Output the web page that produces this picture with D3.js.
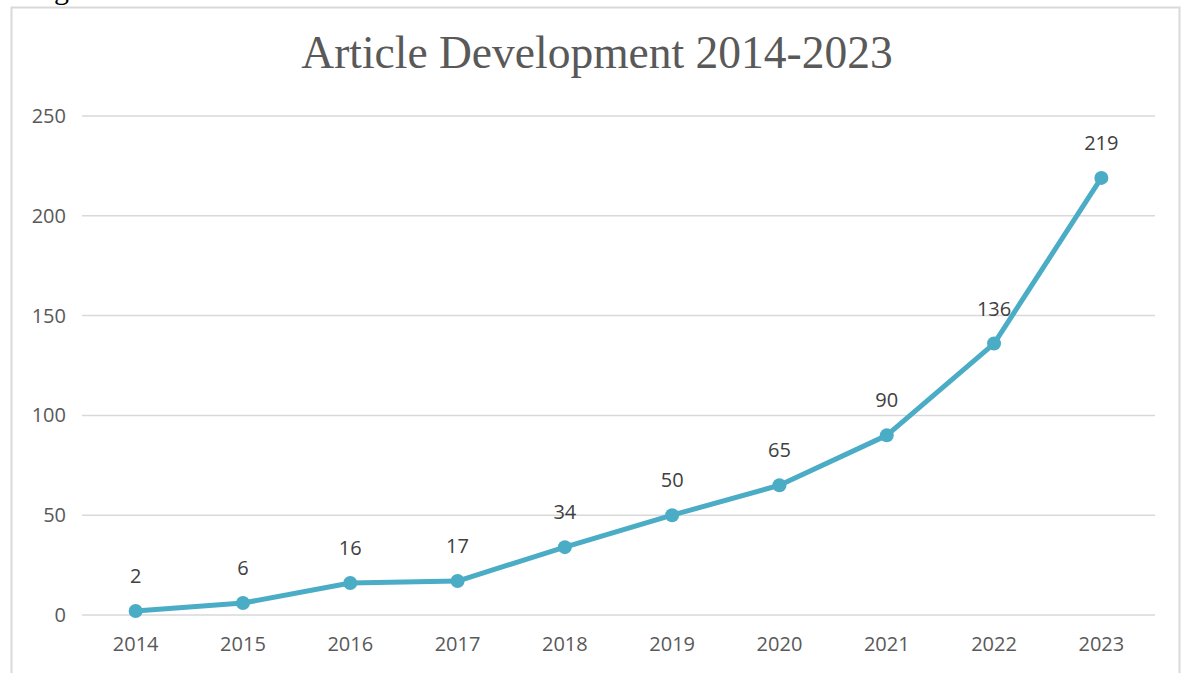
<!DOCTYPE html>
<html>
<head>
<meta charset="utf-8">
<script src="https://cdn.jsdelivr.net/npm/d3@7"></script>
<style>
  body { margin: 0; background: #fff; }
  svg { display: block; }
</style>
</head>
<body>
<div id="chart"></div>
<script>
// Chart size
const w = 1183;
const h = 673;

// Data
const years = ["2014", "2015", "2016", "2017", "2018", "2019", "2020", "2021", "2022", "2023"];
const articles = [2, 6, 16, 17, 34, 50, 65, 90, 136, 219];
const yTicks = [0, 50, 100, 150, 200, 250];

const data = years.map((y, i) => ({ year: y, value: articles[i] }));

const svg = d3.select("#chart")
    .append("svg")
    .attr("width", w)
    .attr("height", h);

// Frame around the chart area
svg.append("rect")
    .attr("x", 11.5)
    .attr("y", 7.5)
    .attr("width", 1168)
    .attr("height", 700)
    .attr("fill", "none")
    .attr("stroke", "#d9d9d9")
    .attr("stroke-width", 2);

// Fragment of caption above the frame (cut off in the source too)
svg.append("text")
    .attr("x", 54)
    .attr("y", -1)
    .attr("font-family", "Liberation Serif, serif")
    .attr("font-size", 30)
    .attr("fill", "#000")
    .text("g");

// Scales
const xScale = d3.scaleBand()
    .domain(years)
    .range([82, 1155]);

const yScale = d3.scaleLinear()
    .domain([0, 250])
    .range([615, 116]);

// Gridlines
svg.append("g")
    .selectAll("line")
    .data(yTicks)
    .enter()
    .append("line")
    .attr("x1", 82)
    .attr("x2", 1155)
    .attr("y1", d => yScale(d))
    .attr("y2", d => yScale(d))
    .attr("stroke", "#d9d9d9")
    .attr("stroke-width", 1.5);

// Y axis labels
const yAxis = d3.axisLeft(yScale).tickValues(yTicks).tickSize(0).tickPadding(16);
svg.append("g")
    .attr("transform", "translate(82,0)")
    .call(yAxis)
    .call(g => g.select(".domain").remove())
    .selectAll("text")
    .attr("font-family", "Open Sans, sans-serif")
    .attr("font-size", 20)
    .attr("fill", "#595959");

// X axis labels
const xAxis = d3.axisBottom(xScale).tickSize(0).tickPadding(22);
svg.append("g")
    .attr("transform", "translate(0,615)")
    .call(xAxis)
    .call(g => g.select(".domain").remove())
    .selectAll("text")
    .attr("font-family", "Open Sans, sans-serif")
    .attr("font-size", 20)
    .attr("fill", "#595959");

// Title
svg.append("text")
    .attr("x", 597)
    .attr("y", 68)
    .attr("text-anchor", "middle")
    .attr("font-family", "Liberation Serif, serif")
    .attr("font-size", 45.5)
    .attr("fill", "#595959")
    .text("Article Development 2014-2023");

// Line
const cx = d => xScale(d.year) + xScale.bandwidth() / 2;
const line = d3.line()
    .x(cx)
    .y(d => yScale(d.value));

svg.append("path")
    .datum(data)
    .attr("d", line)
    .attr("fill", "none")
    .attr("stroke", "#4bacc6")
    .attr("stroke-width", 5)
    .attr("stroke-linejoin", "round")
    .attr("stroke-linecap", "round");

// Markers
svg.append("g")
    .selectAll("circle")
    .data(data)
    .enter()
    .append("circle")
    .attr("cx", cx)
    .attr("cy", d => yScale(d.value))
    .attr("r", 7)
    .attr("fill", "#4bacc6");

// Data labels
svg.append("g")
    .selectAll("text")
    .data(data)
    .enter()
    .append("text")
    .attr("x", cx)
    .attr("y", d => yScale(d.value) - 28)
    .attr("text-anchor", "middle")
    .attr("font-family", "Open Sans, sans-serif")
    .attr("font-size", 20)
    .attr("fill", "#404040")
    .text(d => d.value);
</script>
</body>
</html>
